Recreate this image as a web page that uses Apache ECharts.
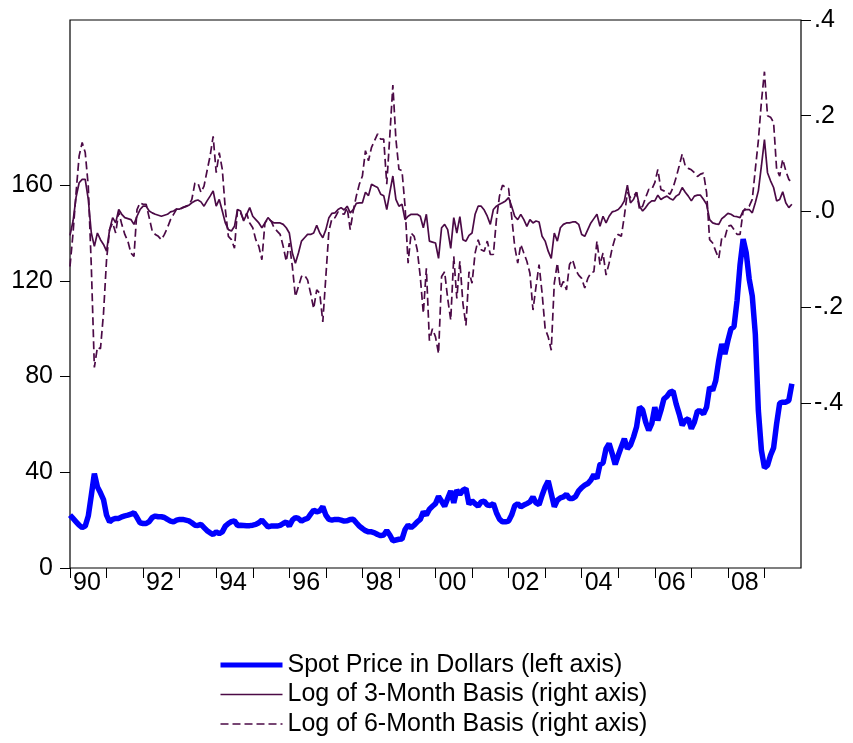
<!DOCTYPE html>
<html>
<head>
<meta charset="utf-8">
<script src="https://cdn.jsdelivr.net/npm/echarts@6/dist/echarts.min.js"></script>
<style>
  html, body { margin: 0; padding: 0; background: #fff; }
  #chart { width: 853px; height: 743px; }
</style>
</head>
<body>
<div id="chart"></div>
<script>
// monthly observations, first one is January 1990
const startYear = 1990;

const spotPrice = [
  22.1, 20.7, 19.3, 17.9, 16.9, 17.5, 21.7, 30.4, 39.4, 33.9, 31.4, 28.6,
  22.1, 19.3, 20.3, 20.7, 20.7, 21.4, 21.8, 22.1, 22.5, 23.1, 21.1, 18.9,
  18.6, 18.6, 19.4, 21.1, 21.7, 21.4, 21.4, 21.1, 20.3, 19.6, 19.3, 20.0,
  20.3, 20.3, 20.0, 19.7, 18.9, 17.9, 17.8, 18.2, 16.9, 15.6, 14.7, 14.0,
  15.1, 14.4, 15.1, 17.5, 18.6, 19.4, 19.7, 17.8, 17.9, 17.8, 17.7, 17.7,
  17.9, 18.2, 18.9, 20.0, 18.6, 17.2, 17.5, 17.5, 17.5, 17.8, 18.6, 19.3,
  17.5, 20.0, 21.1, 20.7, 19.6, 20.3, 20.7, 22.5, 24.2, 23.5, 23.9, 25.6,
  22.1, 20.3, 20.0, 20.3, 20.3, 20.0, 19.6, 19.7, 20.3, 20.4, 18.9, 17.5,
  16.5, 15.6, 15.1, 15.1, 14.7, 14.0, 13.5, 13.8, 15.6, 13.8, 11.4, 11.7,
  12.0, 12.1, 16.1, 17.9, 16.9, 17.9, 19.3, 20.3, 23.5, 22.1, 24.6, 25.8,
  26.9, 29.9, 27.9, 25.8, 29.0, 32.2, 27.2, 32.5, 30.8, 32.5, 33.2, 26.7,
  28.1, 26.9, 25.8, 27.6, 27.9, 26.3, 26.1, 26.9, 23.1, 20.4, 19.3, 19.3,
  19.6, 22.1, 26.0, 26.9, 25.6, 26.3, 26.9, 27.6, 29.7, 27.2, 26.5, 30.4,
  33.9, 36.4, 31.1, 25.6, 28.3, 29.3, 29.7, 30.8, 29.0, 29.0, 29.9, 32.2,
  33.6, 34.6, 35.3, 36.7, 39.0, 37.4, 43.3, 43.9, 49.9, 52.0, 47.8, 43.3,
  47.1, 50.6, 54.0, 49.9, 51.3, 54.7, 58.9, 67.2, 66.1, 61.0, 57.5, 60.3,
  67.2, 61.7, 65.8, 70.7, 71.7, 73.5, 73.9, 68.6, 64.4, 59.6, 61.7, 62.4,
  58.2, 61.0, 65.6, 65.6, 64.4, 67.2, 75.6, 74.2, 78.3, 86.7, 93.6, 89.4,
  95.0, 99.9, 100.8, 111.7, 126.9, 137.4, 131.8, 120.7, 113.7, 97.8, 65.8, 49.2,
  41.9, 42.9, 47.1, 50.2, 60.3, 68.9, 69.3, 69.3, 70.0, 77.0
];

const basis3m = [
  -0.05, -0.02, 0.03, 0.06, 0.067, 0.067, 0.025, -0.045, -0.073, -0.045, -0.059, -0.069,
  -0.083, -0.038, -0.013, -0.024, 0.004, -0.006, -0.013, -0.015, -0.017, -0.027, -0.01, 0.004,
  0.011, 0.011, 0.001, -0.003, -0.006, -0.008, -0.01, -0.008, -0.006, -0.001, 0.001, 0.005,
  0.005, 0.008, 0.011, 0.013, 0.018, 0.022, 0.024, 0.02, 0.011, 0.022, 0.032, 0.043,
  0.011, 0.025, 0.001, -0.024, -0.038, -0.041, -0.031, 0.004, 0.001, -0.02, -0.006, 0.008,
  -0.01, -0.017, -0.024, -0.034, -0.024, -0.013, -0.02, -0.024, -0.024, -0.024, -0.027, -0.034,
  -0.045, -0.087, -0.108, -0.087, -0.062, -0.055, -0.048, -0.048, -0.045, -0.029, -0.045, -0.055,
  -0.038, -0.013, -0.004, -0.003, 0.004, 0.008, 0.003, 0.011, -0.003, 0.004, 0.017, 0.018,
  0.018, 0.04, 0.033, 0.057, 0.053, 0.05, 0.036, 0.033, 0.004, 0.04, 0.074, 0.025,
  0.011, 0.015, -0.017, -0.01, -0.006, -0.006, -0.006, -0.01, -0.034, -0.006, -0.062, -0.064,
  -0.066, -0.098, -0.034, -0.027, -0.038, -0.077, -0.013, -0.045, -0.011, -0.059, -0.062, -0.05,
  -0.045, -0.006, 0.011, 0.011, 0.003, -0.01, -0.027, 0.004, 0.011, 0.015, 0.018, 0.022,
  0.029, 0.011, -0.01, -0.017, -0.006, -0.017, -0.031, -0.017, -0.024, -0.02, -0.022, -0.052,
  -0.062, -0.083, -0.098, -0.045, -0.062, -0.034, -0.027, -0.024, -0.024, -0.022, -0.022, -0.027,
  -0.048, -0.052, -0.038, -0.024, -0.015, -0.006, -0.031, -0.01, -0.024, -0.01, -0.001, 0.001,
  0.004, 0.011, 0.022, 0.055, 0.018, 0.025, 0.04, 0.011, 0.001, 0.008, 0.017, 0.022,
  0.022, 0.034, 0.025, 0.029, 0.032, 0.027, 0.024, 0.032, 0.036, 0.05, 0.04, 0.032,
  0.022, 0.032, 0.034, 0.034, 0.025, 0.015, -0.017, -0.024, -0.026, -0.027, -0.015, -0.01,
  -0.004, -0.006, -0.01, -0.011, -0.013, 0.001, 0.004, 0.004, -0.003, 0.018, 0.043, 0.095,
  0.15, 0.081, 0.064, 0.05, 0.022, 0.025, 0.041, 0.018, 0.008, 0.015
];

const basis6m = [
  -0.115, -0.045, 0.04, 0.116, 0.144, 0.123, 0.053, -0.115, -0.326, -0.284, -0.287, -0.213,
  -0.101, -0.038, -0.024, -0.045, -0.001, -0.027, -0.048, -0.062, -0.087, -0.094, 0.004, 0.018,
  0.015, 0.015, -0.013, -0.041, -0.048, -0.052, -0.059, -0.048, -0.034, -0.017, -0.006, 0.005,
  0.004, 0.008, 0.01, 0.013, 0.025, 0.059, 0.059, 0.04, 0.053, 0.085, 0.116, 0.157,
  0.081, 0.123, 0.088, 0.004, -0.052, -0.059, -0.077, 0.004, -0.003, -0.017, -0.004, -0.024,
  -0.034, -0.059, -0.073, -0.101, -0.024, -0.015, -0.02, -0.034, -0.041, -0.048, -0.073, -0.104,
  -0.066, -0.115, -0.178, -0.157, -0.136, -0.133, -0.143, -0.171, -0.203, -0.164, -0.171, -0.231,
  -0.136, -0.041, -0.015, -0.013, -0.001, -0.004, -0.006, 0.008, -0.038, 0.001, 0.032, 0.057,
  0.074, 0.127, 0.106, 0.134, 0.148, 0.162, 0.151, 0.151, 0.057, 0.158, 0.264, 0.151,
  0.088, 0.085, 0.011, -0.108, -0.045, -0.052, -0.08, -0.136, -0.213, -0.119, -0.27, -0.245,
  -0.262, -0.297, -0.136, -0.126, -0.182, -0.227, -0.094, -0.182, -0.104, -0.192, -0.238, -0.126,
  -0.15, -0.087, -0.059, -0.08, -0.083, -0.062, -0.09, -0.09, -0.017, 0.032, 0.055, 0.05,
  0.048, -0.01, -0.073, -0.108, -0.069, -0.087, -0.104, -0.129, -0.206, -0.157, -0.111, -0.171,
  -0.245, -0.262, -0.29, -0.15, -0.108, -0.16, -0.146, -0.164, -0.111, -0.101, -0.122, -0.133,
  -0.14, -0.16, -0.14, -0.128, -0.126, -0.062, -0.111, -0.087, -0.133, -0.108, -0.077, -0.055,
  -0.048, -0.052, -0.01, 0.04, 0.029, 0.032, 0.04, 0.004, 0.011, 0.029, 0.046, 0.046,
  0.06, 0.088, 0.046, 0.043, 0.04, 0.036, 0.05, 0.071, 0.095, 0.12, 0.095, 0.09,
  0.087, 0.081, 0.073, 0.078, 0.08, 0.04, -0.059, -0.066, -0.083, -0.098, -0.055, -0.055,
  -0.031, -0.029, -0.038, -0.048, -0.048, 0.001, 0.008, 0.011, 0.025, 0.088, 0.148, 0.229,
  0.292, 0.2, 0.197, 0.186, 0.088, 0.074, 0.109, 0.085, 0.067, 0.06
];

const tickYears = [1990, 1991, 1992, 1993, 1994, 1995, 1996, 1997, 1998, 1999,
                   2000, 2001, 2002, 2003, 2004, 2005, 2006, 2007, 2008, 2009];
const labelYears = [1990, 1992, 1994, 1996, 1998, 2000, 2002, 2004, 2006, 2008];
const leftTicks = [0, 40, 80, 120, 160];
const rightTicks = [-0.4, -0.2, 0, 0.2, 0.4];

const seriesNames = [
  'Spot Price in Dollars (left axis)',
  'Log of 3-Month Basis (right axis)',
  'Log of 6-Month Basis (right axis)'
];

const blue = '#0000ff';
const purple = '#4b0a46';
const font = 'Liberation Sans, Arial, sans-serif';

const toPoints = arr => arr.map((v, i) => [i, v]);
const monthOf = y => (y - startYear) * 12;

const chart = echarts.init(document.getElementById('chart'));

chart.setOption({
  animation: false,
  backgroundColor: '#fff',
  grid: {
    left: 70, top: 20, width: 731, height: 548,
    show: true, borderColor: '#000', borderWidth: 1.2, backgroundColor: 'transparent'
  },
  legend: {
    orient: 'vertical',
    left: 218, top: 652, padding: 0,
    itemWidth: 62, itemHeight: 14, itemGap: 3.5,
    itemStyle: { opacity: 0 },
    textStyle: { fontSize: 25, lineHeight: 26, color: '#000', fontFamily: font },
    data: [
      { name: seriesNames[0], lineStyle: { width: 5 } },
      { name: seriesNames[1], lineStyle: { width: 1.6 } },
      { name: seriesNames[2], lineStyle: { width: 1.6 } }
    ]
  },
  xAxis: {
    type: 'value',
    min: 0, max: 240,
    axisLine: { show: false },
    splitLine: { show: false },
    axisTick: {
      show: true, length: 10, customValues: tickYears.map(monthOf),
      lineStyle: { color: '#000', width: 1 }
    },
    axisLabel: {
      customValues: labelYears.map(monthOf),
      formatter: v => String(startYear + Math.round(v / 12)).slice(2),
      align: 'left', padding: [0, 0, 0, 3],
      fontSize: 25, color: '#000', fontFamily: font, margin: 3
    }
  },
  yAxis: [
    {
      type: 'value', position: 'left',
      min: 0, max: 229,
      axisLine: { show: false },
      splitLine: { show: false },
      axisTick: { show: true, length: 10, customValues: leftTicks, lineStyle: { color: '#000' } },
      axisLabel: { customValues: leftTicks, fontSize: 25, color: '#000', fontFamily: font, margin: 17 }
    },
    {
      type: 'value', position: 'right',
      min: -0.745, max: 0.4,
      axisLine: { show: false },
      splitLine: { show: false },
      axisTick: { show: true, length: 10, customValues: rightTicks, lineStyle: { color: '#000' } },
      axisLabel: {
        customValues: rightTicks,
        formatter: v => (v < 0 ? '-' : '') + '.' + Math.round(Math.abs(v) * 10),
        fontSize: 25, color: '#000', fontFamily: font, margin: 13
      }
    }
  ],
  series: [
    {
      name: seriesNames[0],
      type: 'line', yAxisIndex: 0, symbol: 'none', z: 3,
      data: toPoints(spotPrice),
      lineStyle: { color: blue, width: 5.5 },
      itemStyle: { color: blue }
    },
    {
      name: seriesNames[1],
      type: 'line', yAxisIndex: 1, symbol: 'none', z: 2,
      data: toPoints(basis3m),
      lineStyle: { color: purple, width: 1.7 },
      itemStyle: { color: purple }
    },
    {
      name: seriesNames[2],
      type: 'line', yAxisIndex: 1, symbol: 'none', z: 2,
      data: toPoints(basis6m),
      lineStyle: { color: purple, width: 1.7, type: [8, 4] },
      itemStyle: { color: purple }
    }
  ]
});
</script>
</body>
</html>
